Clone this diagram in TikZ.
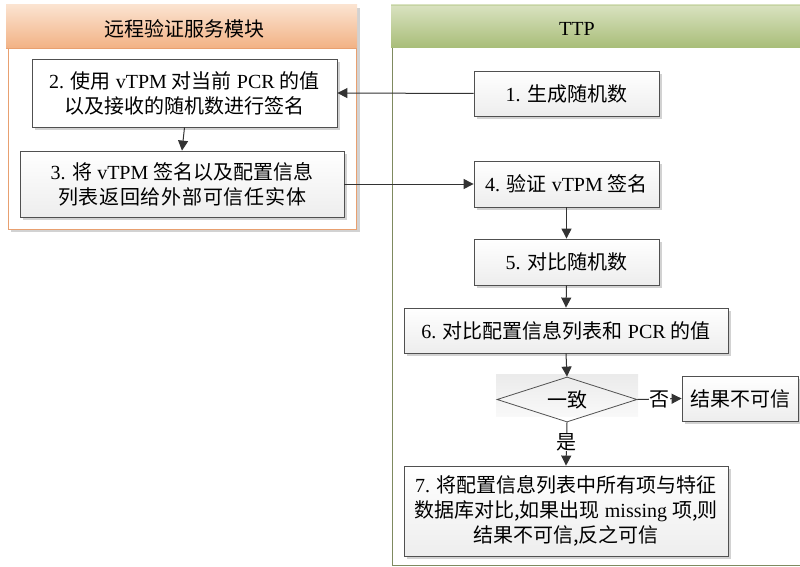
\documentclass[tikz,border=0pt]{standalone}
\usepackage{fontspec}
\setmainfont{Liberation Serif}
\newfontfamily\cjk{Noto Sans CJK SC}
\usetikzlibrary{shapes.geometric,arrows.meta,shadows}
\definecolor{boxline}{HTML}{505050}
\definecolor{arr}{HTML}{333333}
\definecolor{orgtop}{HTML}{FBE3D0}
\definecolor{orgbot}{HTML}{F2B285}
\definecolor{orgline}{HTML}{E8A070}
\definecolor{grntop}{HTML}{D9E2C0}
\definecolor{grnbot}{HTML}{A8BD78}
\definecolor{grnline}{HTML}{7F8A60}
\tikzset{
  x=1pt, y=-1pt,
  stepbox/.style={draw=boxline, line width=0.8pt, rectangle, inner sep=0pt,
    top color=white, bottom color=gray!14, align=center,
    font=\fontsize{20}{25}\selectfont,
    drop shadow={shadow xshift=3pt, shadow yshift=-3pt, fill=gray!35, opacity=1}},
  decbox/.style={draw=boxline, line width=0.8pt, diamond, aspect=3.1, inner sep=0pt,
    minimum width=140pt, minimum height=45pt, font=\fontsize{20}{25}\selectfont},
  flow/.style={draw=arr, line width=1pt, -{Triangle[length=10pt,width=10pt]}},
  lbl/.style={font=\fontsize{20}{22}\selectfont, fill=white, inner sep=0.5pt},
  hdr/.style={font=\fontsize{20}{22}\selectfont}
}
\begin{document}
\begin{tikzpicture}
\useasboundingbox (0,0) rectangle (800,567);
% left lane
\fill[gray!35] (11,8) rectangle (360,232);
\draw[orgline, line width=1pt, fill=white] (8,5) rectangle (356,229);
\shade[top color=orgtop, bottom color=orgbot] (6,5) rectangle (357,48);
\draw[orgline, line width=0.6pt] (6,48) -- (357,48);
\node[hdr] (hl) at (184,29) {\cjk 远程验证服务模块};
% right lane
\draw[grnline, line width=1pt] (392,48) -- (392,565) -- (801,565);
\shade[top color=grntop, bottom color=grnbot] (391,5) rectangle (801,48);
\draw[grntop!60!grnbot, line width=1pt] (391,5.5) -- (801,5.5);
\node[hdr] (hr) at (577,29) {TTP};
% nodes
\node[stepbox, minimum width=185pt, minimum height=45pt] (s1) at (566.5,93.5) {1. {\cjk 生成随机数}};
\node[stepbox, minimum width=305pt, minimum height=68pt, top color=white, bottom color=white] (s2) at (184.5,93) {2. {\cjk 使用} vTPM {\cjk 对当前} PCR {\cjk 的值}\\{\cjk 以及接收的随机数进行签名}};
\node[stepbox, minimum width=324pt, minimum height=66pt] (s3) at (182,184) {3. {\cjk 将} vTPM {\cjk 签名以及配置信息}\\\makebox[248pt][s]{\cjk 列\hfill 表\hfill 返\hfill 回\hfill 给\hfill 外\hfill 部\hfill 可\hfill 信\hfill 任\hfill 实\hfill 体}};
\node[stepbox, minimum width=185pt, minimum height=46pt] (s4) at (566.5,184) {4. {\cjk 验证} vTPM {\cjk 签名}};
\node[stepbox, minimum width=185pt, minimum height=46pt] (s5) at (566.5,262) {5. {\cjk 对比随机数}};
\node[stepbox, minimum width=324pt, minimum height=45pt] (s6) at (566,330.5) {6. {\cjk 对比配置信息列表和} PCR {\cjk 的值}};
\shade[top color=gray!16, bottom color=gray!5] (496,374) rectangle (638,416);
\node[decbox] (d) at (567,399.5) {\cjk 一致};
\node[stepbox, minimum width=116pt, minimum height=45pt] (r) at (740,398.5) {\cjk 结果不可信};
\node[stepbox, minimum width=324pt, minimum height=90pt] (s7) at (566,511) {7. {\cjk 将配置信息列表中所有项与特征}\\{\cjk 数据库对比,如果出现} missing {\cjk 项,则}\\{\cjk 结果不可信,反之可信}};
% connectors
\draw[flow] (s1.west) -- (s2.east);
\draw[flow] (s2.south) -- (s3.north);
\draw[flow] (s3.east) -- (s4.west);
\draw[flow] (s4.south) -- (s5.north);
\draw[flow] (s5.south) -- (s6.north);
\draw[flow] (s6.south) -- (d.north);
\draw[flow] (d.east) -- node[lbl] (no) {\cjk 否} (r.west);
\draw[flow] (d.south) -- node[lbl, pos=0.45] (yes) {\cjk 是} (s7.north);
\end{tikzpicture}
\end{document}
